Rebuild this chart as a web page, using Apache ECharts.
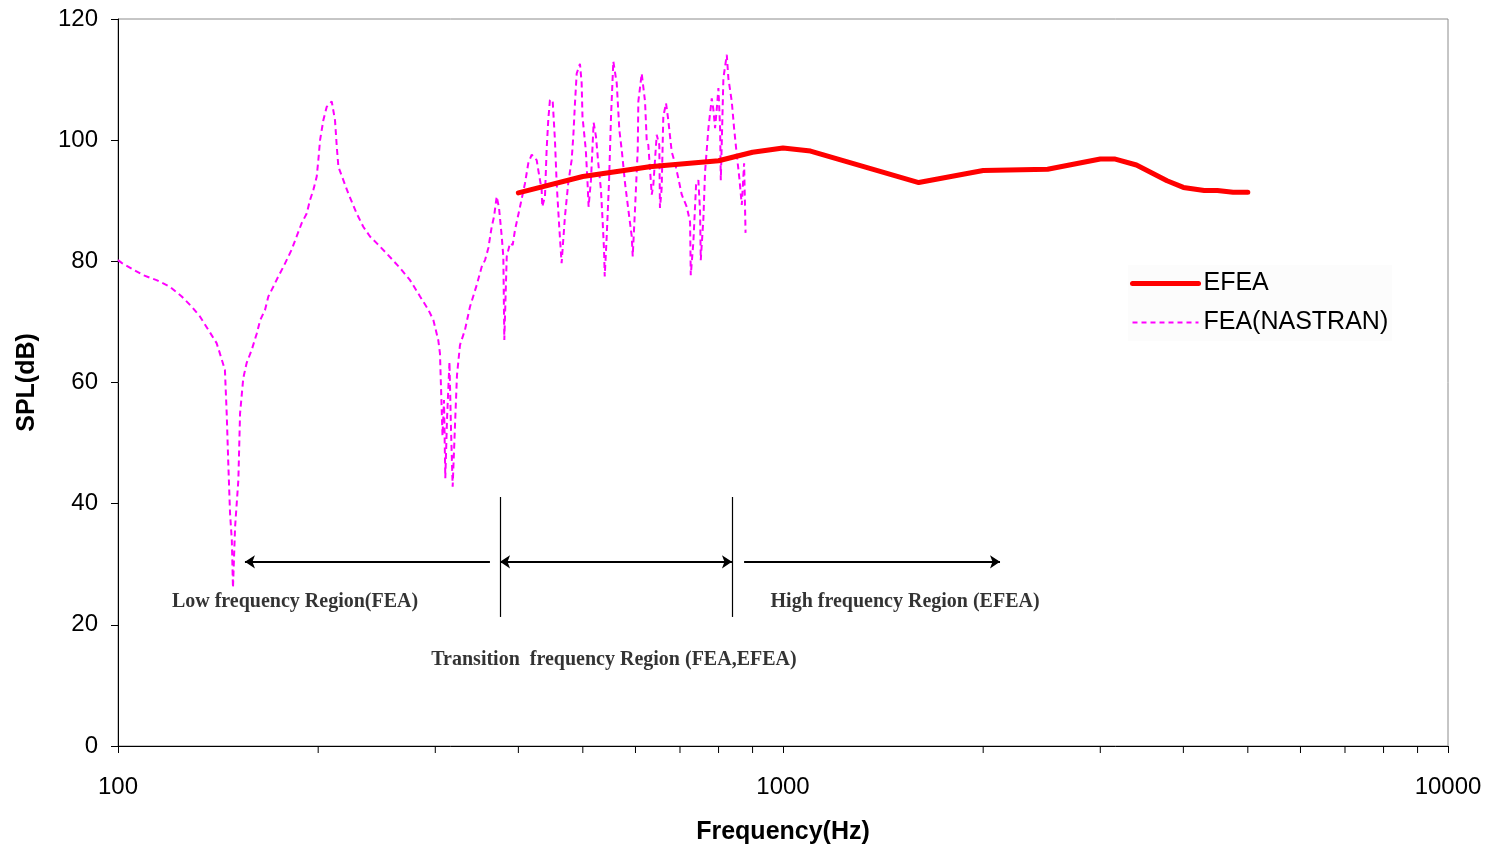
<!DOCTYPE html>
<html>
<head>
<meta charset="utf-8">
<script src="https://cdn.jsdelivr.net/npm/echarts@6/dist/echarts.min.js"></script>
<style>html,body{margin:0;padding:0;background:#fff;overflow:hidden}#c{width:1490px;height:844px}</style>
</head>
<body>
<div id="c"></div>
<script>
// ---- data ----
const efeaFreq = [400, 500, 630, 800, 900, 1000, 1100, 1250, 1600, 2000, 2500, 3000, 3150, 3400, 3780, 4000, 4300, 4500, 4750, 5000];
const efeaSpl  = [91.3, 94.0, 95.6, 96.6, 98.0, 98.7, 98.2, 96.4, 93.0, 95.0, 95.2, 96.9, 96.9, 95.9, 93.3, 92.2, 91.7, 91.7, 91.4, 91.4];

const feaFreq = [100,101.4,109.2,114.3,119.7,124.7,129.1,132.8,136.7,140.7,142.3,144.8,145.7,146.5,147.4,148.3,148.9,150.0,151.7,152.6,
154.3,156.1,158.9,161.7,163.6,166.4,168.3,171.2,174.2,177.3,182.4,185.6,188.9,192.2,194.4,196.7,199.0,200.1,201.3,203.6,
206.0,209.6,212.0,213.3,214.5,218.2,222.0,228.5,233.8,239.3,244.9,253.5,265.5,274.9,284.6,292.9,298.0,303.1,304.9,307.6,
309.2,310.6,312.4,315.1,316.8,318.6,321.2,323.4,326.8,332.5,338.3,346.3,352.3,356.4,360.5,364.7,367.7,371.1,374.1,377.6,
379.7,381.0,384.2,388.6,392.2,395.4,402.3,409.3,414.0,418.9,426.2,428.5,433.6,434.5,438.6,441.1,443.6,446.2,450.4,454.0,
456.7,460.8,464.6,470.0,475.4,481.0,483.8,486.6,489.5,495.1,498.0,499.4,505.2,508.3,510.1,514.3,519.1,523.3,527.5,532.4,
535.7,538.1,539.4,543.1,547.4,551.3,555.7,562.3,567.4,572.1,578.7,585.4,592.3,594.3,599.0,604.7,606.0,613.1,620.2,623.8,
627.3,634.8,638.3,645.8,651.6,653.1,657.0,660.7,667.0,672.2,680.2,688.1,696.0,704.3,716.6,724.9,726.6,733.2,740.1,746.0,
750.4,752.2,759.1,763.5,772.4,781.4,785.9,790.4,796.8,799.6,804.3,806.2,809.0,813.5,823.1,827.7,837.4,844.2,852.1,859.8,
867.0,874.0,878.4];
const feaSpl = [80.2,79.7,77.7,76.9,75.8,74.2,72.5,70.9,68.7,66.5,64.8,62.1,54.9,46.7,38.4,34.0,26.1,36.2,43.9,54.9,
60.7,63.2,65.4,68.1,70.3,72.0,74.2,75.8,77.5,79.1,81.9,84.1,86.3,87.9,90.1,91.8,94.0,96.7,100.0,103.3,
105.5,106.4,103.3,98.9,95.6,93.4,91.2,87.9,85.7,84.1,83.0,81.3,78.9,76.9,74.2,72.0,70.3,67.0,64.8,51.2,
57.1,44.2,53.8,63.4,52.2,42.8,53.0,61.2,66.2,68.7,72.5,76.1,79.1,80.2,82.2,85.7,87.4,90.7,88.8,84.1,
80.8,67.0,80.8,83.0,82.7,85.2,89.0,92.9,96.2,97.6,96.7,95.1,91.8,89.0,90.7,98.4,103.3,106.6,106.6,100.0,
92.9,85.7,79.7,87.4,92.9,96.7,100.6,106.1,111.0,112.6,109.4,103.9,98.4,92.9,89.0,93.4,102.9,100.6,96.2,91.8,
86.3,81.9,77.5,84.1,92.9,103.9,113.0,109.4,101.7,98.4,92.9,88.5,84.1,80.8,88.5,98.4,106.4,111.0,106.4,100.0,
99.2,91.0,92.6,100.9,99.2,88.8,92.1,103.9,106.1,103.3,98.1,96.2,93.7,91.0,89.0,86.5,77.7,83.2,92.6,93.4,
88.2,80.2,87.1,94.8,102.0,106.9,105.0,102.0,106.4,108.6,102.0,93.4,99.7,110.2,114.1,110.2,106.4,102.0,97.6,93.7,
89.3,96.2,84.7];

const minorTicks = [200,300,400,500,600,700,800,900,2000,3000,4000,5000,6000,7000,8000,9000];

// annotations (data space)
const regionLabels = ['Low frequency Region(FEA)', 'Transition  frequency Region (FEA,EFEA)', 'High frequency Region (EFEA)'];
const regionLabelPos = [[184.6, 23.8], [556.9, 14.2], [1526, 23.8]];
const dividerFreq = [375.4, 838];
const dividerRange = [21.3, 41.1];
const arrowY = 30.4;
const arrows = [[155.2, 362.5, 'start'], [375.4, 838, 'both'], [874, 2120, 'end']];

// ---- chart ----
const chart = echarts.init(document.getElementById('c'), null, {renderer: 'canvas', width: 1490, height: 844});
const pair = (xs, ys) => xs.map((x, i) => [x, ys[i]]);

const markLineData = [];
dividerFreq.forEach(f => {
  markLineData.push([{coord: [f, dividerRange[0]], symbol: 'none', lineStyle: {width: 1.2}}, {coord: [f, dividerRange[1]], symbol: 'none'}]);
});
arrows.forEach(a => {
  const s0 = (a[2] === 'start' || a[2] === 'both') ? 'arrow' : 'none';
  const s1 = (a[2] === 'end' || a[2] === 'both') ? 'arrow' : 'none';
  markLineData.push([{coord: [a[0], arrowY], symbol: s0, lineStyle: {width: 2}}, {coord: [a[1], arrowY], symbol: s1}]);
});

const font = 'Liberation Sans, Arial, sans-serif';
const option = {
  animation: false,
  backgroundColor: '#fff',
  grid: {left: 118, right: 42, top: 19, bottom: 98, show: true, borderColor: '#8c8c8c', borderWidth: 1,
         containLabel: false, outerBoundsMode: 'none'},
  legend: {
    data: [
      {name: 'EFEA', itemStyle: {opacity: 0}, lineStyle: {width: 5, color: '#ff0000', cap: 'round'}},
      {name: 'FEA(NASTRAN)', itemStyle: {opacity: 0}, lineStyle: {width: 2, color: '#ff00ff', type: [5, 4]}}
    ],
    orient: 'vertical', left: 1128, top: 265,
    itemWidth: 66, itemHeight: 14, itemGap: 14,
    backgroundColor: '#fcfcfc', padding: [6, 4, 6, 2],
    textStyle: {fontFamily: font, fontSize: 25, color: '#000'}
  },
  xAxis: {
    type: 'log', logBase: 10, min: 100, max: 10000,
    name: 'Frequency(Hz)', nameLocation: 'middle', nameGap: 74,
    nameTextStyle: {fontFamily: font, fontSize: 25, fontWeight: 'bold', color: '#000'},
    axisLine: {lineStyle: {color: '#000', width: 1}},
    axisTick: {show: true, inside: false, length: 7, lineStyle: {color: '#000'}},
    axisLabel: {margin: 29, fontFamily: font, fontSize: 24, color: '#000', formatter: v => String(Math.round(v))},
    splitLine: {show: false}
  },
  yAxis: {
    type: 'value', min: 0, max: 120, interval: 20,
    name: 'SPL(dB)', nameLocation: 'middle', nameGap: 78,
    nameTextStyle: {fontFamily: font, fontSize: 25, fontWeight: 'bold', color: '#000'},
    axisLine: {show: true, lineStyle: {color: '#000', width: 1}},
    axisTick: {show: true, inside: false, length: 7, lineStyle: {color: '#000'}},
    axisLabel: {margin: 20, fontFamily: font, fontSize: 24, color: '#000'},
    splitLine: {show: false}
  },
  series: [
    {
      name: 'FEA(NASTRAN)', type: 'line', data: pair(feaFreq, feaSpl),
      symbol: 'none', smooth: false, z: 3,
      lineStyle: {color: '#ff00ff', width: 2, type: [6, 4]},
      itemStyle: {color: '#ff00ff'}
    },
    {
      name: 'EFEA', type: 'line', data: pair(efeaFreq, efeaSpl),
      symbol: 'none', smooth: false, z: 4,
      lineStyle: {color: '#ff0000', width: 5, cap: 'round', join: 'round'},
      itemStyle: {color: '#ff0000'}
    },
    {
      name: 'minorTicks', type: 'custom', data: minorTicks.map(v => [v, 0]),
      encode: {x: 0, y: 1}, silent: true, clip: false, z: 5,
      renderItem: (params, api) => {
        const p = api.coord([api.value(0), 0]);
        return {type: 'line', shape: {x1: p[0], y1: p[1], x2: p[0], y2: p[1] + 7}, style: {stroke: '#000', lineWidth: 1}};
      }
    },
    {
      name: 'annotations', type: 'scatter', z: 6, silent: true,
      data: regionLabels.map((t, i) => ({name: t, value: regionLabelPos[i]})),
      symbolSize: 2, itemStyle: {color: 'rgba(0,0,0,0)'},
      label: {
        show: true, position: 'inside', formatter: p => p.name,
        fontFamily: 'Liberation Serif, Times New Roman, serif', fontWeight: 'bold', fontSize: 20, color: '#000'
      },
      labelLayout: {hideOverlap: false},
      markLine: {
        silent: true, animation: false, symbolSize: 10,
        label: {show: false},
        lineStyle: {color: '#000', type: 'solid', width: 2},
        emphasis: {disabled: true},
        data: markLineData
      }
    }
  ]
};
chart.setOption(option);
</script>
</body>
</html>
